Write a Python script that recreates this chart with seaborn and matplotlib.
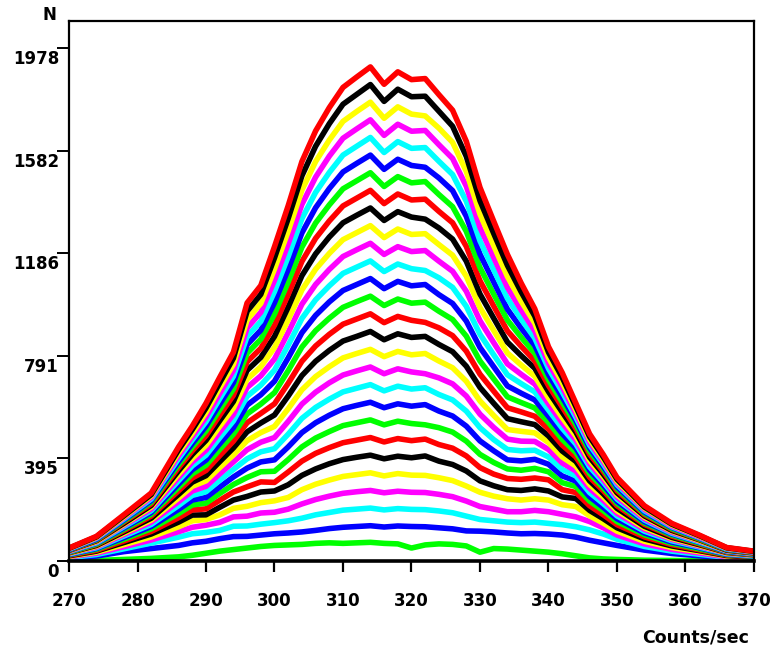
import matplotlib
matplotlib.use("Agg")
import matplotlib.pyplot as plt
import pandas as pd
import seaborn as sns

# x positions (Counts/sec)
x_values = [270, 274, 278, 282, 286, 288, 290, 292, 294, 296, 298, 300, 302, 304, 306, 308,
            310, 312, 314, 316, 318, 320, 322, 324, 326, 328, 330, 332, 334, 336, 338, 340,
            342, 344, 346, 348, 350, 354, 358, 362, 366, 370]

# curves from bottom (1) to top (28)
s01 = [0, 2, 6, 10, 16, 22, 30, 38, 44, 50, 56, 60, 62, 64, 68, 70, 68, 70, 72, 68, 66, 50, 62, 66, 64, 58, 34, 48, 46, 42, 38, 34, 28, 20, 12, 8, 6, 3, 2, 1, 0, 0]
s02 = [10, 19, 36, 48, 60, 70, 76, 86, 94, 95, 100, 105, 108, 112, 118, 125, 130, 133, 136, 131, 135, 133, 132, 128, 124, 116, 115, 112, 108, 105, 106, 104, 100, 92, 80, 70, 60, 42, 29, 20, 11, 8]
s03 = [13, 25, 47, 69, 92, 105, 110, 118, 134, 135, 142, 148, 155, 165, 178, 187, 196, 200, 204, 197, 202, 199, 198, 193, 186, 173, 160, 155, 150, 148, 150, 145, 140, 132, 120, 104, 84, 56, 38, 26, 14, 10]
s04 = [16, 30, 55, 81, 113, 130, 138, 149, 170, 173, 185, 188, 200, 220, 237, 250, 261, 267, 272, 263, 269, 265, 264, 257, 248, 231, 210, 200, 190, 190, 195, 190, 180, 170, 152, 128, 100, 66, 45, 31, 16, 12]
s05 = [18, 34, 63, 93, 132, 155, 160, 178, 203, 211, 225, 232, 245, 275, 296, 312, 326, 333, 340, 328, 337, 331, 330, 321, 310, 289, 265, 250, 240, 235, 240, 235, 217, 210, 174, 146, 115, 76, 52, 36, 19, 14]
s06 = [20, 38, 71, 104, 150, 177, 178, 207, 235, 249, 266, 270, 294, 330, 355, 375, 391, 400, 408, 394, 404, 398, 405, 385, 372, 347, 309, 290, 275, 272, 278, 270, 247, 241, 195, 163, 128, 85, 58, 40, 21, 15]
s07 = [22, 41, 77, 114, 167, 197, 201, 234, 266, 286, 305, 303, 343, 385, 415, 437, 456, 466, 476, 459, 472, 464, 470, 449, 435, 405, 360, 335, 318, 315, 320, 313, 275, 264, 213, 178, 140, 93, 63, 43, 23, 17]
s08 = [24, 45, 84, 124, 183, 216, 223, 260, 295, 322, 344, 346, 391, 440, 474, 499, 522, 533, 544, 525, 539, 530, 525, 514, 497, 462, 411, 380, 355, 350, 357, 344, 302, 287, 231, 194, 152, 101, 68, 47, 25, 18]
s09 = [25, 48, 90, 133, 199, 235, 245, 285, 324, 358, 382, 390, 440, 495, 533, 562, 587, 600, 612, 591, 606, 597, 603, 578, 559, 520, 463, 425, 390, 386, 392, 373, 328, 308, 248, 207, 163, 108, 73, 51, 26, 19]
s10 = [27, 51, 96, 141, 214, 253, 267, 311, 353, 394, 421, 433, 489, 550, 592, 624, 652, 666, 680, 656, 674, 663, 668, 642, 621, 578, 514, 468, 430, 425, 427, 401, 353, 328, 264, 221, 174, 115, 78, 54, 28, 20]
s11 = [29, 54, 102, 150, 229, 270, 288, 336, 382, 429, 458, 476, 538, 605, 651, 687, 717, 733, 748, 722, 741, 729, 722, 706, 683, 636, 566, 515, 470, 462, 461, 430, 378, 347, 280, 234, 184, 122, 83, 57, 30, 22]
s12 = [30, 57, 107, 158, 243, 288, 309, 360, 409, 464, 495, 519, 587, 660, 711, 749, 783, 800, 816, 788, 808, 795, 800, 771, 745, 693, 617, 561, 507, 500, 494, 457, 401, 366, 295, 247, 194, 128, 87, 60, 31, 23]
s13 = [32, 60, 112, 165, 257, 304, 329, 383, 436, 498, 532, 563, 636, 715, 770, 812, 848, 866, 885, 853, 876, 862, 866, 835, 807, 751, 669, 608, 549, 537, 526, 482, 424, 384, 309, 259, 203, 134, 91, 63, 33, 24]
s14 = [33, 63, 117, 173, 271, 320, 349, 406, 462, 533, 569, 606, 685, 770, 829, 874, 913, 933, 953, 919, 943, 928, 920, 899, 869, 809, 720, 655, 591, 575, 558, 509, 447, 401, 323, 271, 213, 141, 96, 66, 34, 25]
s15 = [34, 65, 122, 180, 284, 336, 369, 430, 489, 567, 605, 649, 734, 825, 888, 936, 978, 1000, 1021, 985, 1010, 994, 998, 963, 931, 867, 771, 702, 633, 611, 590, 534, 469, 418, 337, 282, 222, 147, 100, 69, 36, 26]
s16 = [36, 68, 127, 187, 297, 352, 389, 452, 514, 601, 641, 693, 783, 880, 947, 999, 1043, 1066, 1089, 1050, 1078, 1061, 1066, 1027, 993, 925, 823, 749, 675, 647, 621, 558, 491, 435, 350, 293, 230, 152, 104, 72, 37, 27]
s17 = [37, 70, 132, 194, 310, 367, 408, 475, 540, 635, 678, 736, 832, 935, 1007, 1061, 1109, 1133, 1157, 1116, 1145, 1127, 1120, 1092, 1055, 982, 874, 795, 718, 684, 652, 582, 512, 451, 363, 304, 239, 158, 107, 74, 39, 28]
s18 = [38, 73, 137, 201, 323, 382, 427, 497, 565, 669, 714, 779, 881, 990, 1066, 1124, 1174, 1200, 1225, 1182, 1212, 1193, 1197, 1156, 1117, 1040, 926, 842, 760, 720, 682, 606, 533, 466, 376, 314, 247, 163, 111, 77, 40, 29]
s19 = [40, 75, 141, 208, 335, 396, 446, 519, 590, 701, 749, 823, 930, 1045, 1125, 1186, 1239, 1266, 1293, 1247, 1280, 1259, 1262, 1220, 1179, 1098, 977, 889, 802, 756, 712, 629, 553, 482, 388, 325, 255, 169, 115, 79, 41, 30]
s20 = [41, 78, 145, 214, 348, 411, 465, 541, 615, 735, 785, 866, 979, 1100, 1184, 1249, 1304, 1333, 1361, 1313, 1347, 1326, 1318, 1284, 1241, 1156, 1029, 936, 844, 792, 743, 653, 574, 497, 400, 335, 263, 174, 118, 82, 42, 31]
s21 = [42, 80, 150, 220, 360, 425, 483, 562, 639, 768, 820, 909, 1028, 1155, 1244, 1311, 1369, 1399, 1429, 1378, 1415, 1392, 1395, 1348, 1304, 1213, 1080, 983, 887, 828, 772, 676, 594, 511, 412, 345, 271, 179, 122, 84, 44, 32]
s22 = [43, 82, 154, 227, 372, 439, 501, 583, 663, 801, 855, 952, 1076, 1210, 1303, 1373, 1435, 1466, 1497, 1444, 1482, 1458, 1463, 1413, 1366, 1271, 1131, 1029, 929, 863, 801, 698, 613, 526, 424, 355, 279, 184, 125, 86, 45, 33]
s23 = [44, 84, 158, 233, 383, 453, 520, 605, 688, 834, 890, 996, 1125, 1265, 1362, 1436, 1500, 1533, 1565, 1510, 1549, 1525, 1518, 1477, 1428, 1329, 1183, 1076, 971, 898, 831, 719, 632, 541, 436, 364, 286, 189, 129, 89, 46, 34]
s24 = [46, 87, 162, 239, 395, 467, 537, 626, 712, 866, 924, 1039, 1174, 1320, 1421, 1498, 1565, 1599, 1633, 1575, 1617, 1591, 1594, 1541, 1490, 1387, 1234, 1123, 1013, 933, 859, 742, 652, 554, 447, 374, 294, 194, 132, 91, 47, 35]
s25 = [47, 89, 166, 245, 407, 480, 555, 646, 735, 898, 959, 1082, 1223, 1375, 1480, 1561, 1630, 1666, 1701, 1641, 1684, 1657, 1660, 1605, 1552, 1445, 1286, 1170, 1055, 968, 887, 763, 671, 568, 458, 383, 301, 199, 135, 93, 49, 35]
s26 = [48, 91, 170, 251, 418, 493, 573, 668, 759, 930, 993, 1126, 1272, 1430, 1540, 1623, 1695, 1733, 1769, 1707, 1751, 1723, 1716, 1669, 1614, 1502, 1337, 1216, 1097, 1002, 917, 784, 689, 582, 469, 392, 308, 204, 139, 96, 50, 36]
s27 = [49, 93, 174, 256, 429, 507, 590, 687, 782, 963, 1028, 1169, 1321, 1485, 1599, 1686, 1761, 1799, 1837, 1772, 1819, 1790, 1792, 1734, 1676, 1560, 1389, 1263, 1140, 1038, 944, 805, 708, 595, 479, 401, 315, 208, 142, 98, 51, 37]
s28 = [50, 95, 178, 262, 440, 520, 608, 708, 805, 995, 1062, 1212, 1370, 1540, 1658, 1748, 1826, 1866, 1905, 1838, 1886, 1856, 1860, 1798, 1738, 1618, 1440, 1310, 1182, 1072, 972, 826, 726, 608, 490, 410, 322, 213, 145, 100, 52, 38]

series = [s01, s02, s03, s04, s05, s06, s07, s08, s09, s10, s11, s12, s13, s14,
          s15, s16, s17, s18, s19, s20, s21, s22, s23, s24, s25, s26, s27, s28]

color_cycle = ["#00ff00", "#0000ff", "#00ffff", "#ff00ff", "#ffff00", "#000000", "#ff0000"]

xtick_values = [270, 280, 290, 300, 310, 320, 330, 340, 350, 360, 370]
ytick_values = [0, 395.6, 791.2, 1186.8, 1582.4, 1978]
ytick_labels = ["0", "395", "791", "1186", "1582", "1978"]

rows = []
for i, s in enumerate(series):
    for xv, yv in zip(x_values, s):
        rows.append((f"c{i + 1:02d}", xv, yv))
df = pd.DataFrame(rows, columns=["curve", "x", "n"])
palette = {f"c{i + 1:02d}": color_cycle[i % 7] for i in range(len(series))}

sns.set_theme(style="white")
plt.rcParams["font.family"] = ["DejaVu Sans"]
plt.rcParams["text.color"] = "black"
plt.rcParams["axes.labelcolor"] = "black"
plt.rcParams["xtick.color"] = "black"
plt.rcParams["ytick.color"] = "black"

W, H = 773, 650
fig = plt.figure(figsize=(W / 100, H / 100), dpi=100)
ax = fig.add_axes([69 / W, 89 / H, 685 / W, 540 / H])

sns.lineplot(data=df, x="x", y="n", hue="curve", palette=palette, linewidth=4.0,
             legend=False, ax=ax, estimator=None, sort=True)

ax.set_xlim(270, 370)
ax.set_ylim(0, 2082)

for side, lw in [("left", 1.6), ("top", 1.6), ("right", 1.6), ("bottom", 2.6)]:
    ax.spines[side].set_visible(True)
    ax.spines[side].set_color("black")
    ax.spines[side].set_linewidth(lw)

ax.set_xticks(xtick_values)
ax.set_xticklabels([str(v) for v in xtick_values], fontweight="bold", fontsize=12,
                   color="black")
ax.tick_params(axis="x", direction="out", length=8, width=1.6, pad=14, colors="black",
               labelcolor="black", bottom=True)

ax.set_yticks(ytick_values)
ax.set_yticklabels([""] * len(ytick_values))
ax.tick_params(axis="y", direction="out", length=8.5, width=1.4, colors="black", left=True)
for v, lbl in zip(ytick_values, ytick_labels):
    ax.annotate(lbl, xy=(0, v), xycoords=("axes fraction", "data"),
                xytext=(-10, -11), textcoords="offset pixels",
                ha="right", va="center", fontweight="bold", fontsize=12, color="black",
                annotation_clip=False)

ax.set_xlabel("")
ax.set_ylabel("")
fig.text(49 / W, 1 - 15 / H, "N", ha="center", va="center", fontweight="bold",
         fontsize=12, color="black")
fig.text(696 / W, 1 - 638 / H, "Counts/sec", ha="center", va="center",
         fontweight="bold", fontsize=12.5, color="black")

fig.savefig("out.png", dpi=100, facecolor="white")
